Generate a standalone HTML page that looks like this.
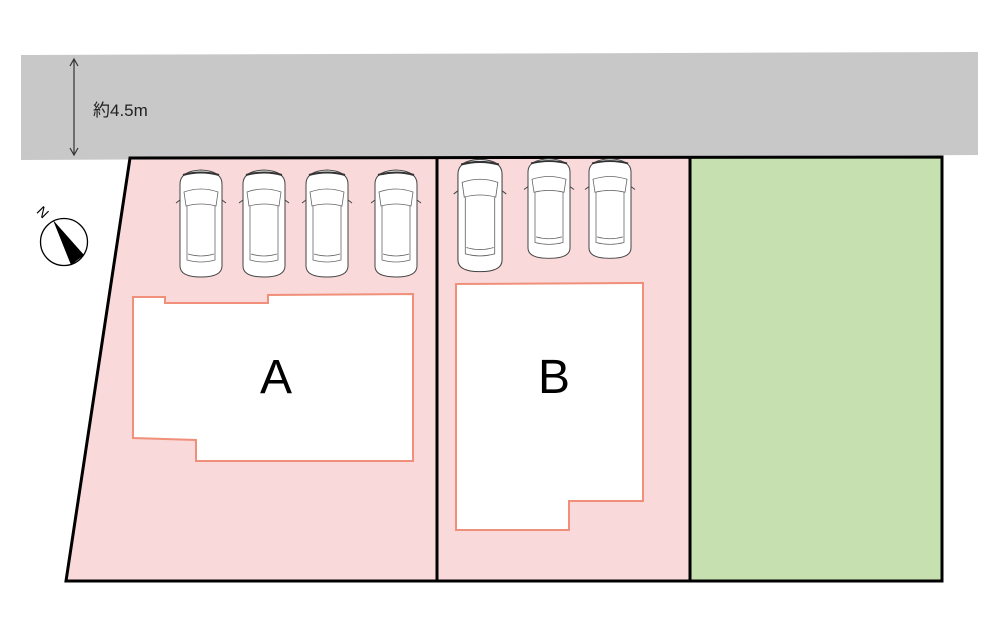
<!DOCTYPE html>
<html><head><meta charset="utf-8"><style>body{margin:0;background:#fff}svg{display:block}</style></head><body>
<svg width="1000" height="643" viewBox="0 0 1000 643" xmlns="http://www.w3.org/2000/svg">
<defs>
<g id="car">
<path d="M-21,-40 Q-21,-53 0,-54 Q21,-53 21,-40 L21,42 Q21,53 0,53 Q-21,53 -21,42 Z" fill="#fff" stroke="#444" stroke-width="1"/>
<path d="M-17,-32 Q0,-38 17,-32 L15,-18 Q0,-22 -15,-18 Z" fill="none" stroke="#666" stroke-width="0.8"/>
<path d="M-14,-18 L-14,36 Q0,40 14,36 L14,-18" fill="none" stroke="#666" stroke-width="0.8"/>
<path d="M-13,30 Q0,34 13,30" fill="none" stroke="#666" stroke-width="0.8"/>
<path d="M-18,-49 Q0,-54 18,-49" fill="none" stroke="#333" stroke-width="2"/>
<line x1="-21" y1="-24" x2="-25" y2="-21" stroke="#444"/><line x1="21" y1="-24" x2="25" y2="-21" stroke="#444"/>
</g>
</defs>
<polygon points="21,55 978,52 978,155 21,160" fill="#c8c8c9"/>
<line x1="74" y1="60" x2="74" y2="154" stroke="#333" stroke-width="1.2"/>
<path d="M70,66 L74,59 L78,66 M70,148 L74,155 L78,148" fill="none" stroke="#333" stroke-width="1.2"/>
<text x="93" y="116" font-family="Liberation Sans, Noto Sans CJK JP, sans-serif" font-size="17" fill="#222">約4.5m</text>
<polygon points="130,158 437,157 437,581 66,581" fill="#f9d9da"/>
<rect x="437" y="157" width="253" height="424" fill="#f9d9da"/>
<rect x="690" y="157" width="252" height="424" fill="#c6e0b0"/>
<polygon points="130,158 942,157 942,581 66,581" fill="none" stroke="#000" stroke-width="3"/>
<line x1="437" y1="157" x2="437" y2="581" stroke="#000" stroke-width="3"/>
<line x1="690" y1="157" x2="690" y2="581" stroke="#000" stroke-width="3"/>
<polygon points="133,297 165,297 165,303 268,303 268,295 413,294 413,461 196,461 196,440 133,438" fill="#fff" stroke="#f0907a" stroke-width="2"/>
<polygon points="456,284 643,283 643,501 569,501 569,530 456,530" fill="#fff" stroke="#f0907a" stroke-width="2"/>
<text x="276" y="393" font-family="Liberation Sans, sans-serif" font-size="48" text-anchor="middle" fill="#000">A</text>
<text x="554" y="393" font-family="Liberation Sans, sans-serif" font-size="48" text-anchor="middle" fill="#000">B</text>
<use href="#car" transform="translate(201,224)"/>
<use href="#car" transform="translate(264,224)"/>
<use href="#car" transform="translate(327,224)"/>
<use href="#car" transform="translate(396,224)"/>
<use href="#car" transform="translate(480,216) scale(1.05,1.05)"/>
<use href="#car" transform="translate(549,209) scale(1,0.93)"/>
<use href="#car" transform="translate(610,209) scale(1,0.93)"/>
<circle cx="64" cy="242" r="23.5" fill="#fff" stroke="#000" stroke-width="1.3"/>
<polygon points="53,220 84,255 71,265" fill="#000"/>
<text x="38" y="217" font-family="Liberation Sans, sans-serif" font-size="14" fill="#000" transform="rotate(45 43 212)">N</text>
</svg>
</body></html>
